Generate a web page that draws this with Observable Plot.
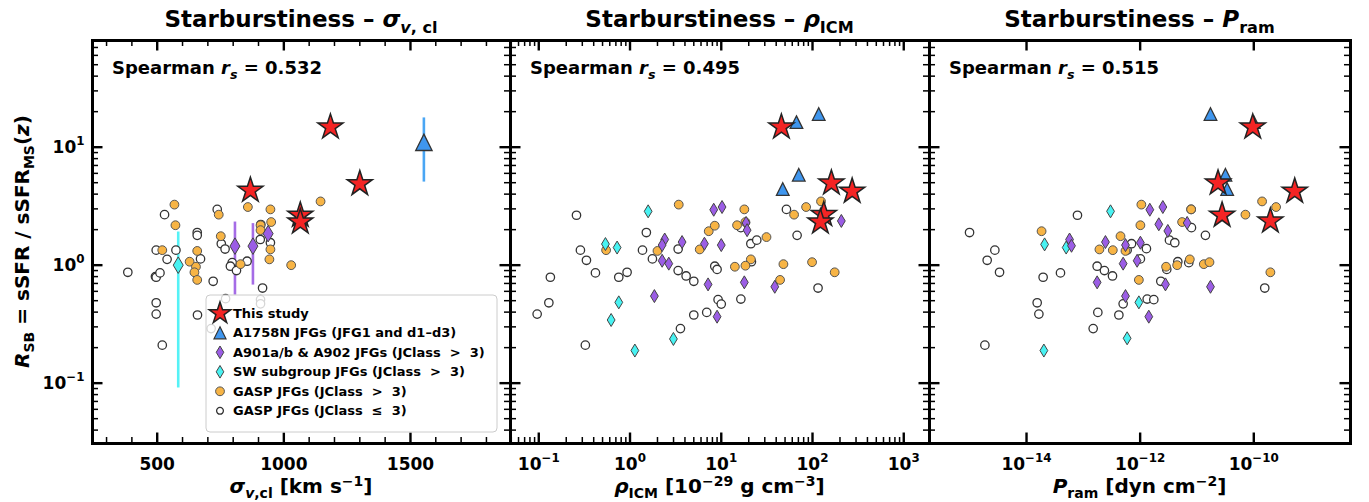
<!DOCTYPE html>
<html>
<head>
<meta charset="utf-8">
<script src="https://cdn.jsdelivr.net/npm/d3@7"></script>
<script src="https://cdn.jsdelivr.net/npm/@observablehq/plot@0.6"></script>
<style>
  body { margin: 0; background: #fff; }
  #wrap { position: relative; width: 1369px; height: 502px; overflow: hidden; }
</style>
</head>
<body>
<div id="wrap"></div>
<script>
// ---------------- data ----------------
const yDomain = [0.0308, 80.2];
const yMajor = [0.1, 1, 10];
const yLabels = ["10^−1", "10^0", "10^1"];
const yMinor = [0.04,0.05,0.06,0.07,0.08,0.09,0.2,0.3,0.4,0.5,0.6,0.7,0.8,0.9,2,3,4,5,6,7,8,9,20,30,40,50,60,70,80];

// Panel 1: sigma_v,cl [km/s]
const x1Major = [500, 1000, 1500];
const x1Labels = ["500", "1000", "1500"];
const x1Minor = [300,400,600,700,800,900,1100,1200,1300,1400,1600,1700,1800];
const stars1 = [[1184,14.8],[868,4.3],[1300,4.9],[1065,2.65],[1065,2.32]];
const tri1 = [[1553,11.0]];
const triErr1 = [[1553,5.06,17.7]];
const purple1 = [[807,1.45],[878,1.45],[938,1.85]];
const purpleErr1 = [[807,0.557,2.32],[878,0.678,2.25]];
const cyan1 = [[583,1.0]];
const cyanErr1 = [[583,0.091,1.91]];
const orange1 = [[568,3.26],[572,2.18],[520,1.34],[628,1.07],[658,1.32],[653,0.97],[647,0.87],[658,0.75],[743,2.68],[751,1.76],[858,3.11],[829,1.02],[908,2.18],[908,1.98],[947,2.97],[950,2.32],[947,1.36],[943,1.12],[1029,1.0],[1145,3.47]];
const open1 = [[384,0.87],[493,0.80],[496,0.79],[511,0.86],[529,2.68],[496,1.34],[539,1.12],[574,1.34],[496,0.48],[496,0.385],[520,0.21],[658,1.89],[658,1.79],[671,1.13],[659,0.378],[721,0.73],[737,2.97],[753,1.52],[768,1.37],[796,1.05],[789,0.98],[813,0.90],[855,1.08],[907,1.65],[909,2.21],[947,1.55],[916,0.64],[770,0.52],[908,0.51],[908,0.47],[713,0.29]];

// Panel 2: rho_ICM [1e-29 g/cm3]
const x2Major = [0.1, 1, 10, 100, 1000];
const x2Labels = ["10^−1", "10^0", "10^1", "10^2", "10^3"];
const x2Minor = [0.05,0.06,0.07,0.08,0.09,0.2,0.3,0.4,0.5,0.6,0.7,0.8,0.9,2,3,4,5,6,7,8,9,20,30,40,50,60,70,80,90,200,300,400,500,600,700,800,900];
const stars2 = [[45.6,14.8],[161,4.96],[272,4.23],[133,2.68],[122,2.32]];
const tri2 = [[66.7,16.3],[117,19.1],[70.7,5.84],[47.2,4.42]];
const purple2 = [[8.27,2.95],[10.2,3.11],[2.40,1.65],[2.25,1.48],[3.72,1.57],[6.54,1.52],[10.0,1.48],[18.7,2.28],[19.2,1.98],[2.25,1.09],[2.66,1.03],[7.17,0.687],[17.9,0.715],[1.85,0.547],[9.0,0.366],[38.6,0.656],[207,2.37]];
const cyan2 = [[1.58,2.86],[0.538,1.51],[0.722,1.41],[0.753,0.484],[0.621,0.343],[1.13,0.189],[2.99,0.237]];
const orange2 = [[3.42,3.26],[0.547,1.34],[2.0,1.32],[5.81,1.36],[7.29,1.94],[8.49,2.16],[14.9,2.18],[17.9,2.97],[31.3,1.73],[21.1,1.12],[14.1,0.97],[18.4,0.99],[48.0,1.02],[44.1,0.75],[62.8,2.68],[85.1,3.11],[124,3.47],[98.9,1.06],[175,0.87],[18.4,2.32]];
const open2 = [[0.259,2.65],[0.286,1.34],[0.333,1.10],[0.418,0.86],[0.134,0.79],[0.129,0.48],[0.096,0.385],[0.324,0.21],[0.753,0.79],[0.929,0.87],[1.37,1.34],[1.51,1.89],[1.76,1.13],[3.37,1.37],[3.37,0.90],[4.12,0.81],[5.0,0.73],[3.57,0.29],[5.0,0.378],[6.93,0.398],[8.49,0.98],[9.0,0.92],[9.23,0.51],[10.0,0.468],[16.4,0.516],[16.4,2.08],[21.1,1.52],[24.5,1.63],[21.4,1.07],[51.8,2.97],[67.8,1.79],[115,0.64]];

// Panel 3: P_ram [dyn/cm2]
const x3Major = [1e-14, 1e-12, 1e-10];
const x3Labels = ["10^−14", "10^−12", "10^−10"];
const x3Minor = [];
const stars3 = [[9.6e-11,14.8],[2.35e-11,4.96],[5.26e-10,4.23],[2.77e-11,2.65],[1.96e-10,2.36]];
const tri3 = [[1.73e-11,19.1],[1.0e-10,16.3],[3.17e-11,5.84],[3.4e-11,4.42]];
const purple3 = [[1.48e-12,2.95],[2.51e-12,3.11],[5.72e-14,1.65],[6.19e-14,1.46],[2.45e-13,1.57],[5.52e-13,1.48],[1.01e-12,1.55],[2.13e-12,2.22],[3.07e-12,1.95],[6.72e-12,2.28],[5.02e-13,1.03],[8.85e-13,1.09],[1.75e-13,0.715],[2.79e-12,0.687],[5.52e-13,0.547],[1.42e-12,0.366],[1.73e-11,0.656]];
const cyan3 = [[3.01e-13,2.86],[2.08e-14,1.50],[4.99e-14,1.41],[9.49e-13,0.484],[5.9e-13,0.24],[2.02e-14,0.189]];
const orange3 = [[1.05e-12,3.26],[1.01e-12,2.18],[4.51e-13,1.76],[1.92e-13,1.36],[3.30e-13,1.34],[5.52e-13,1.32],[1.84e-14,1.94],[9.49e-13,0.75],[2.86e-12,0.97],[4.48e-12,1.0],[5.48e-12,2.32],[7.89e-12,2.97],[7.48e-12,1.12],[1.32e-11,1.02],[1.66e-11,1.06],[7.13e-11,2.68],[1.40e-10,3.47],[2.47e-10,3.11],[1.96e-10,0.87]];
const open3 = [[9.93e-16,1.89],[2.77e-15,1.34],[2.03e-15,1.10],[3.35e-15,0.87],[1.85e-15,0.21],[1.54e-14,0.48],[1.65e-14,0.385],[1.96e-14,0.79],[3.96e-14,0.86],[7.88e-14,2.65],[1.75e-13,0.98],[2.35e-13,0.90],[3.26e-13,0.81],[1.80e-13,0.398],[1.49e-13,0.29],[4.22e-13,0.378],[5.02e-13,0.47],[5.9e-13,1.34],[7.05e-13,1.52],[1.01e-12,1.13],[1.29e-12,1.38],[1.33e-12,0.516],[1.74e-12,0.51],[2.31e-12,0.73],[2.94e-12,0.92],[3.28e-12,1.63],[4.07e-12,1.55],[4.6e-12,1.07],[7.18e-12,1.05],[8.0e-12,2.08],[1.41e-11,1.79],[1.56e-10,0.64],[7.89e-12,2.97]];

const spearman = ["0.532", "0.495", "0.515"];
const legendLabels = ["This study", "A1758N JFGs (JFG1 and d1–d3)", "A901a/b & A902 JFGs (JClass  >  3)", "SW subgroup JFGs (JClass  >  3)", "GASP JFGs (JClass  >  3)", "GASP JFGs (JClass  ≤  3)"];

// ---------------- styles ----------------
const FONT = "'DejaVu Sans', 'Noto Sans', sans-serif";
const C = {
  star: "#f42424", starEdge: "#222",
  tri: "#3f96ee", triErr: "#4aa6f4",
  purple: "#9b5de5", purpleErr: "#a56ce6",
  cyan: "#48f2f2", cyanErr: "#55f2f6",
  orange: "#f7b445"
};
const W = 1369, H = 502, TOP = 40, BOTTOM = 443;
const MAJ = 10.5, MIN = 6;

// matplotlib-like marker shapes (size = pi r^2, r = half height)
const triUp = { draw(ctx, size) { const r = Math.sqrt(size / Math.PI); ctx.moveTo(0, -r); ctx.lineTo(r, r); ctx.lineTo(-r, r); ctx.closePath(); } };
const thinDiamond = { draw(ctx, size) { const r = Math.sqrt(size / Math.PI), w = r * 0.6; ctx.moveTo(0, -r); ctx.lineTo(w, 0); ctx.lineTo(0, r); ctx.lineTo(-w, 0); ctx.closePath(); } };

const panels = [
  { left: 92, right: 510, type: "linear", domain: [244.5, 1895], xMajor: x1Major, xLabels: x1Labels, xMinor: x1Minor,
    stars: stars1, tri: tri1, purple: purple1, cyan: cyan1, orange: orange1, open: open1,
    errs: [[cyanErr1, C.cyanErr], [purpleErr1, C.purpleErr], [triErr1, C.triErr]], dR: 8.3, tR: 8.2,
    title: [["Starburstiness – "], ["σ", "i"], ["v", "ib"], [", cl", "b"]],
    xlab: [["σ", "i"], ["v", "ib"], [",cl", "b"], [" [km s"], ["−1", "p"], ["]"]] },
  { left: 510, right: 929, type: "log", domain: [0.049, 1915], xMajor: x2Major, xLabels: x2Labels, xMinor: x2Minor,
    stars: stars2, tri: tri2, purple: purple2, cyan: cyan2, orange: orange2, open: open2,
    errs: [], dR: 6.5, tR: 6.3,
    title: [["Starburstiness – "], ["ρ", "i"], ["ICM", "b"]],
    xlab: [["ρ", "i"], ["ICM", "b"], [" [10"], ["−29", "p"], [" g cm"], ["−3", "p"], ["]"]] },
  { left: 929, right: 1350, type: "log", domain: [1.96e-16, 5.04e-9], xMajor: x3Major, xLabels: x3Labels, xMinor: x3Minor,
    stars: stars3, tri: tri3, purple: purple3, cyan: cyan3, orange: orange3, open: open3,
    errs: [], dR: 6.5, tR: 6.3,
    title: [["Starburstiness – "], ["P", "i"], ["ram", "b"]],
    xlab: [["P", "i"], ["ram", "b"], [" [dyn cm"], ["−2", "p"], ["]"]] }
];

function rich(g, x, y, parts, size, anchor = "middle", rotate = 0, supK = 0.42) {
  const t = g.append("text").attr("x", x).attr("y", y).attr("text-anchor", anchor)
    .attr("font-size", size).attr("font-weight", "bold").attr("font-family", FONT).attr("fill", "black");
  if (rotate) t.attr("transform", `rotate(${rotate},${x},${y})`);
  let shift = 0;
  for (const [txt, fl = ""] of parts) {
    const sub = fl.includes("b"), sup = fl.includes("p");
    const target = sub ? size * 0.26 : sup ? -size * supK : 0;
    const ts = t.append("tspan").text(txt);
    if (target !== shift) { ts.attr("dy", target - shift); shift = target; }
    if (sub || sup) ts.attr("font-size", size * 0.7);
    if (fl.includes("i")) ts.attr("font-style", "italic");
  }
  return t;
}

const wrap = d3.select("#wrap");
const X = d => d[0], Y = d => d[1];

panels.forEach((P, idx) => {
  const fw = P.right - P.left, fh = BOTTOM - TOP;
  const marks = [];
  for (const [data, color] of P.errs) {
    marks.push(Plot.ruleX(data, { x: d => d[0], y1: d => d[1], y2: d => d[2], stroke: color, strokeWidth: 2.6 }));
  }
  marks.push(Plot.dot(P.open, { x: X, y: Y, r: 4.2, fill: "white", stroke: "#333", strokeWidth: 1.3 }));
  marks.push(Plot.dot(P.orange, { x: X, y: Y, r: 4.4, fill: C.orange, stroke: "#555", strokeWidth: 1 }));
  marks.push(Plot.dot(P.cyan, { x: X, y: Y, symbol: thinDiamond, r: P.dR, fill: C.cyan, stroke: "#444", strokeWidth: 1 }));
  marks.push(Plot.dot(P.purple, { x: X, y: Y, symbol: thinDiamond, r: P.dR, fill: C.purple, stroke: "#444", strokeWidth: 1 }));
  marks.push(Plot.dot(P.tri, { x: X, y: Y, symbol: triUp, r: P.tR, fill: C.tri, stroke: "#333", strokeWidth: 1.3 }));
  marks.push(Plot.dot(P.stars, { x: X, y: Y, symbol: "star", r: 7.9, fill: C.star, stroke: C.starEdge, strokeWidth: 1.5 }));
  // inward ticks on all four sides (short rules inset from the frame)
  const tickSets = [[P.xMajor, MAJ, 2.4], [P.xMinor, MIN, 1.5]];
  for (const [vals, len, sw] of tickSets) {
    if (!vals.length) continue;
    marks.push(Plot.ruleX(vals, { x: d => d, insetTop: fh - len, stroke: "black", strokeWidth: sw }));
    marks.push(Plot.ruleX(vals, { x: d => d, insetBottom: fh - len, stroke: "black", strokeWidth: sw }));
  }
  for (const [vals, len, sw] of [[yMajor, MAJ, 2.4], [yMinor, MIN, 1.5]]) {
    marks.push(Plot.ruleY(vals, { y: d => d, insetRight: fw - len, stroke: "black", strokeWidth: sw }));
    marks.push(Plot.ruleY(vals, { y: d => d, insetLeft: fw - len, stroke: "black", strokeWidth: sw }));
  }
  marks.push(Plot.axisX({ anchor: "bottom", ticks: P.xMajor, tickSize: 0, tickPadding: 14, label: null,
    tickFormat: d => P.xLabels[P.xMajor.indexOf(d)] }));
  if (idx === 0) {
    marks.push(Plot.axisY({ anchor: "left", ticks: yMajor, tickSize: 0, tickPadding: 8, label: null,
      tickFormat: d => yLabels[yMajor.indexOf(d)] }));
  }
  marks.push(Plot.frame({ stroke: "black", strokeWidth: 3 }));

  const chart = Plot.plot({
    width: W, height: H,
    marginLeft: P.left, marginRight: W - P.right, marginTop: TOP, marginBottom: H - BOTTOM,
    x: { type: P.type, domain: P.domain, axis: null },
    y: { type: "log", domain: yDomain, axis: null },
    style: { position: "absolute", left: "0px", top: "0px", background: "none", overflow: "visible",
      fontFamily: FONT, fontSize: "17px", fontWeight: "bold", color: "black" },
    marks
  });
  wrap.node().appendChild(chart);
  const svg = d3.select(chart);

  // superscripts in tick labels
  svg.selectAll("g[aria-label$='tick label'] text").each(function () {
    const s = this.textContent;
    if (!s.includes("^")) return;
    const [b, e] = s.split("^");
    const el = d3.select(this);
    el.text("");
    el.append("tspan").text(b);
    el.append("tspan").attr("dy", -17 * 0.45).attr("font-size", 17 * 0.7).text(e);
  });

  const g = svg.append("g");
  const cx = (P.left + P.right) / 2;
  rich(g, cx, 27, P.title, 23);
  rich(g, cx, 493, P.xlab, 20, "middle", 0, 0.36);
  rich(g, P.left + 20, 74, [["Spearman "], ["r", "i"], ["s", "ib"], [" = " + spearman[idx]]], 18, "start");

  if (idx === 0) {
    rich(g, 29, (TOP + BOTTOM) / 2, [["R", "i"], ["SB", "b"], [" = sSFR / sSFR"], ["MS", "b"], ["("], ["z", "i"], [")"]], 20, "middle", -90);
    // legend
    const lg = svg.append("g");
    lg.append("rect").attr("x", 206).attr("y", 295).attr("width", 291).attr("height", 137).attr("rx", 4)
      .attr("fill", "white").attr("fill-opacity", 0.8).attr("stroke", "#cccccc").attr("stroke-width", 1);
    const syms = [
      { type: d3.symbolStar, r: 6.8, fill: C.star, stroke: C.starEdge, sw: 1.5 },
      { type: triUp, r: 6.0, fill: C.tri, stroke: "#333", sw: 1.2 },
      { type: thinDiamond, r: 6.3, fill: C.purple, stroke: "#444", sw: 1 },
      { type: thinDiamond, r: 6.3, fill: C.cyan, stroke: "#444", sw: 1 },
      { type: d3.symbolCircle, r: 4.4, fill: C.orange, stroke: "#555", sw: 1 },
      { type: d3.symbolCircle, r: 3.4, fill: "white", stroke: "#333", sw: 1.3 }
    ];
    legendLabels.forEach((lab, i) => {
      const yy = 313.3 + i * 19.5;
      const s = syms[i];
      lg.append("path").attr("transform", `translate(220,${yy})`)
        .attr("d", d3.symbol(s.type, Math.PI * s.r * s.r)())
        .attr("fill", s.fill).attr("stroke", s.stroke).attr("stroke-width", s.sw);
      lg.append("text").attr("x", 233).attr("y", yy).attr("dy", "0.36em").attr("text-anchor", "start")
        .attr("font-family", FONT).attr("font-weight", "bold").attr("font-size", 13).attr("fill", "black")
        .text(lab);
    });
  }
});
</script>
</body>
</html>
